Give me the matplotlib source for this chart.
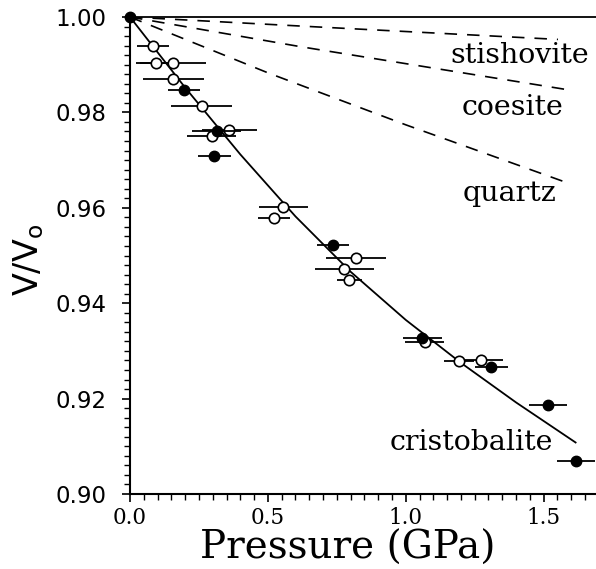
import matplotlib
matplotlib.use("Agg")
import matplotlib.pyplot as plt
from matplotlib.ticker import MultipleLocator, FixedLocator

# open circles: pressure (GPa), V/Vo, pressure error
open_p = [0.084, 0.093, 0.157, 0.157, 0.260, 0.296, 0.360, 0.556, 0.522,
          0.819, 0.777, 0.795, 1.069, 1.193, 1.274]
open_v = [0.9939, 0.9903, 0.9904, 0.9870, 0.9814, 0.9751, 0.9763, 0.9601,
          0.9578, 0.9495, 0.9471, 0.9449, 0.9319, 0.9279, 0.9281]
open_err = [0.059, 0.070, 0.120, 0.110, 0.110, 0.090, 0.100, 0.089, 0.059,
            0.109, 0.107, 0.045, 0.070, 0.055, 0.080]

# filled circles
fill_p = [0.0, 0.197, 0.314, 0.305, 0.735, 1.060, 1.310, 1.516, 1.618]
fill_v = [1.0, 0.9847, 0.9760, 0.9709, 0.9523, 0.9328, 0.9266, 0.9187, 0.9070]
fill_err = [0.0, 0.058, 0.090, 0.060, 0.058, 0.070, 0.060, 0.068, 0.070]

# fitted cristobalite curve
cris_p = [0.0, 0.2, 0.4, 0.6, 0.8, 1.0, 1.2, 1.4, 1.616]
cris_v = [1.0, 0.9852, 0.9712, 0.9582, 0.9466, 0.9365, 0.9275, 0.9192, 0.9108]

# other silica polymorphs (dashed)
stish_p = [0.0, 0.652, 1.552]
stish_v = [1.0, 0.9980, 0.9953]
coes_p = [0.0, 0.616, 1.582]
coes_v = [1.0, 0.9938, 0.9848]
qtz_p = [0.0, 0.5, 1.0, 1.578]
qtz_v = [1.0, 0.9883, 0.9774, 0.9654]

fig = plt.figure(figsize=(5.96, 5.69), dpi=100)
ax = fig.add_axes([130/596, 75/569, 466/596, 477/569])

ax.axhline(1.0, color='k', lw=1.3, clip_on=False)
dash = dict(color='k', lw=1.2, dashes=(7.5, 6))
ax.plot(stish_p, stish_v, **dash)
ax.plot(coes_p, coes_v, **dash)
ax.plot(qtz_p, qtz_v, **dash)
ax.plot(cris_p, cris_v, color='k', lw=1.3)

ax.errorbar(open_p, open_v, xerr=open_err, fmt='o', ms=7.5, mfc='white',
            mec='k', mew=1.2, ecolor='k', elinewidth=1.3, capsize=0, zorder=3)
ax.errorbar(fill_p, fill_v, xerr=fill_err, fmt='o', ms=7.5, mfc='k',
            mec='k', ecolor='k', elinewidth=1.3, capsize=0, zorder=4,
            clip_on=False)

serif = dict(family='DejaVu Serif', fontsize=20.5)
ax.text(1.413, 0.9920, 'stishovite', ha='center', va='center', **serif)
ax.text(1.388, 0.9811, 'coesite', ha='center', va='center', **serif)
ax.text(1.377, 0.9631, 'quartz', ha='center', va='center', **serif)
ax.text(1.239, 0.9107, 'cristobalite', ha='center', va='center', **serif)

ax.set_xlim(0, 1.69)
ax.set_ylim(0.90, 1.00)
ax.xaxis.set_major_locator(FixedLocator([0.0, 0.5, 1.0, 1.5]))
ax.xaxis.set_minor_locator(MultipleLocator(0.05))
ax.yaxis.set_major_locator(MultipleLocator(0.02))
ax.yaxis.set_minor_locator(MultipleLocator(0.002))
ax.set_xticklabels(['0.0', '0.5', '1.0', '1.5'], family='DejaVu Serif', fontsize=15.5)
ax.set_yticklabels(['%.2f' % v for v in ax.get_yticks()], family='DejaVu Sans', fontsize=16.5)

for s in ['top', 'right']:
    ax.spines[s].set_visible(False)
for s in ['left', 'bottom']:
    ax.spines[s].set_linewidth(1.5)
ax.tick_params(which='major', direction='out', length=6, width=1.2)
ax.tick_params(which='minor', direction='out', length=4, width=1.0)
ax.tick_params(axis='y', which='major', pad=11)
ax.tick_params(axis='x', which='major', pad=3)

ax.set_xlabel('Pressure (GPa)', family='DejaVu Serif', fontsize=28)
ax.xaxis.set_label_coords((348 - 130) / 466, -0.075)
ax.set_ylabel(r'V/V$_\mathregular{o}$', family='DejaVu Sans', fontsize=24)
ax.yaxis.set_label_coords(-0.18, 0.49)

fig.savefig('out.png', dpi=100)
